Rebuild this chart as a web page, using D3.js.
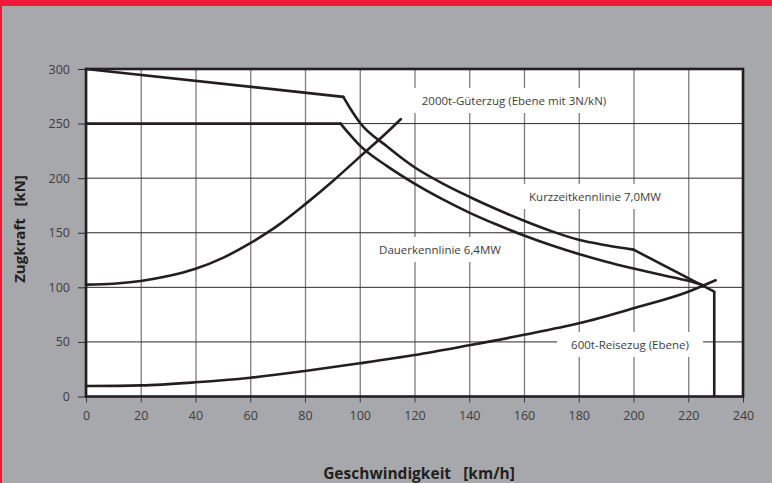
<!DOCTYPE html>
<html>
<head>
<meta charset="utf-8">
<script src="https://cdn.jsdelivr.net/npm/d3@7/dist/d3.min.js"></script>
<style>
  html, body { margin: 0; padding: 0; background: #a7a8ab; }
  svg { display: block; }
  text { font-family: "Open Sans", "Noto Sans", sans-serif; }
</style>
</head>
<body>
<svg id="chart" width="772" height="483"></svg>
<script>
// ---- data ----
const speedTicks = [0, 20, 40, 60, 80, 100, 120, 140, 160, 180, 200, 220, 240];
const forceTicks = [0, 50, 100, 150, 200, 250, 300];

// Kurzzeitkennlinie 7,0MW  [km/h, kN]
const kurzzeitSpeed = [0, 94, 97, 100, 110, 120, 130, 140, 150, 160, 170, 180, 190, 200, 229.5];
const kurzzeitForce = [300, 274.5, 262, 251, 229, 210, 195.5, 183, 171.5, 161, 151.5, 143.5, 138.5, 134.5, 96];
const kurzzeitDrop = [96, 0];

// Dauerkennlinie 6,4MW
const dauerSpeed = [0, 93, 96, 100, 110, 120, 130, 140, 150, 160, 170, 180, 190, 200, 210, 220, 226];
const dauerForce = [250, 250, 241, 230, 211, 195, 181, 168.5, 157.5, 147.5, 138.5, 130.5, 123.5, 117.3, 111.5, 106, 101.5];

// 2000t-Güterzug (Ebene mit 3N/kN)
const gueterSpeed = [0, 10, 20, 30, 40, 50, 60, 70, 80, 90, 100, 110, 115];
const gueterForce = [102.5, 103.3, 105.8, 110.3, 117, 127, 140.5, 156.5, 176, 197, 219.5, 242, 254];

// 600t-Reisezug (Ebene)
const reiseSpeed = [0, 20, 40, 60, 80, 100, 120, 140, 160, 180, 200, 220, 230];
const reiseForce = [9.6, 10.2, 13, 17.2, 23.4, 30.4, 38, 47, 56.5, 67, 80.8, 96, 106.5];

const labels = ["2000t-Güterzug (Ebene mit 3N/kN)", "Kurzzeitkennlinie 7,0MW", "Dauerkennlinie 6,4MW", "600t-Reisezug (Ebene)"];
const xTitle = "Geschwindigkeit\u00a0\u00a0 [km/h]";
const yTitle = "Zugkraft\u00a0\u00a0 [kN]";

// ---- layout ----
const svg = d3.select("#chart");
const W = 772, H = 483;
const pLeft = 86, pRight = 743, pTop = 69, pBottom = 396.5;

const x = d3.scaleLinear().domain([0, 240]).range([pLeft, pRight]);
const y = d3.scaleLinear().domain([0, 300]).range([pBottom, pTop]);

// background + red header strip
svg.append("rect").attr("width", W).attr("height", H).attr("fill", "#a7a8ab");
svg.append("rect").attr("x", 0).attr("y", 0).attr("width", W).attr("height", 6).attr("fill", "#ee1a3a");
svg.append("rect").attr("x", 0).attr("y", 0).attr("width", 2).attr("height", H).attr("fill", "#ee1a3a");

// plot area
svg.append("rect").attr("x", pLeft).attr("y", pTop).attr("width", pRight - pLeft).attr("height", pBottom - pTop).attr("fill", "#ffffff");

// vertical grid (gray)
const gx = svg.append("g").attr("transform", `translate(0,${pBottom})`)
  .call(d3.axisBottom(x).tickValues(speedTicks).tickSize(-(pBottom - pTop)).tickSizeOuter(0).tickFormat(""));
gx.select(".domain").remove();
gx.selectAll("line").attr("stroke", "#7d7d7d").attr("stroke-width", 1.3);
// outside tick marks + labels
const gx2 = svg.append("g").attr("transform", `translate(0,${pBottom})`)
  .call(d3.axisBottom(x).tickValues(speedTicks).tickSize(6).tickSizeOuter(0).tickPadding(9));
gx2.select(".domain").remove();
gx2.selectAll("line").attr("stroke", "#3a3a3a").attr("stroke-width", 1);
gx2.selectAll("text").attr("fill", "#3d3d3d").style("font-size", "12.5px");

// horizontal grid (dark) with left ticks
const gy = svg.append("g").attr("transform", `translate(${pLeft},0)`)
  .call(d3.axisLeft(y).tickValues(forceTicks).tickSize(8).tickSizeOuter(0).tickPadding(8));
gy.select(".domain").remove();
gy.selectAll("line").attr("stroke", "#2b2b2b").attr("stroke-width", 1);
gy.selectAll("text").attr("fill", "#3d3d3d").style("font-size", "12.5px");
svg.append("g").selectAll("line").data(forceTicks).join("line")
  .attr("x1", pLeft).attr("x2", pRight).attr("y1", d => y(d)).attr("y2", d => y(d))
  .attr("stroke", "#2b2b2b").attr("stroke-width", 1);

// annotation label boxes (white, interrupt grid)
const labelBoxes = [
  [408, 88, 212, 25],
  [519, 184, 152, 25],
  [370, 237, 140, 25],
  [557, 332, 146, 25]
];
const lg = svg.append("g");
labels.forEach((t, i) => {
  const b = labelBoxes[i];
  lg.append("rect").attr("x", b[0]).attr("y", b[1]).attr("width", b[2]).attr("height", b[3]).attr("fill", "#ffffff");
  lg.append("text").attr("x", b[0] + b[2] / 2).attr("y", b[1] + b[3] / 2)
    .attr("text-anchor", "middle").attr("dominant-baseline", "central")
    .attr("fill", "#3d3d3d").style("font-size", "11.5px").text(t);
});

// curves
const lineSmooth = d3.line().x(d => x(d[0])).y(d => y(d[1])).curve(d3.curveMonotoneX);
const lineLin = d3.line().x(d => x(d[0])).y(d => y(d[1]));
const zip = (a, b) => a.map((v, i) => [v, b[i]]);
const curveStyle = sel => sel.attr("fill", "none").attr("stroke", "#231f20").attr("stroke-width", 2.6)
  .attr("stroke-linejoin", "round").attr("stroke-linecap", "round");
const cg = svg.append("g");
// draw a series as pieces: [from, to, smooth?]
function drawPieces(pts, pieces) {
  pieces.forEach(([a, b, smooth]) => {
    cg.append("path").datum(pts.slice(a, b + 1)).attr("d", smooth ? lineSmooth : lineLin).call(curveStyle);
  });
}
const reisePts = zip(reiseSpeed, reiseForce);
const gueterPts = zip(gueterSpeed, gueterForce);
const dauerPts = zip(dauerSpeed, dauerForce);
const kurzPts = zip(kurzzeitSpeed, kurzzeitForce);

drawPieces(reisePts, [[0, reisePts.length - 1, true]]);
drawPieces(gueterPts, [[0, gueterPts.length - 1, true]]);
drawPieces(dauerPts, [[0, 1, false], [1, dauerPts.length - 1, true]]);
drawPieces(kurzPts, [[0, 1, false], [1, 13, true], [13, 14, false]]);
const lastS = kurzzeitSpeed[kurzzeitSpeed.length - 1];
cg.append("path").datum(kurzzeitDrop.map(f => [lastS, f])).attr("d", lineLin).call(curveStyle).attr("stroke-linecap", "butt");

// frame
svg.append("rect").attr("x", pLeft).attr("y", pTop).attr("width", pRight - pLeft).attr("height", pBottom - pTop)
  .attr("fill", "none").attr("stroke", "#231f20").attr("stroke-width", 2.6);

// axis titles
svg.append("text").attr("x", 419).attr("y", 473)
  .attr("text-anchor", "middle").attr("dominant-baseline", "central")
  .attr("fill", "#231f20").style("font-size", "15.5px").style("font-weight", "bold").text(xTitle);
svg.append("text").attr("transform", "translate(18.5,229) rotate(-90)")
  .attr("text-anchor", "middle").attr("dominant-baseline", "central")
  .attr("fill", "#231f20").style("font-size", "15px").style("font-weight", "bold").text(yTitle);
</script>
</body>
</html>
